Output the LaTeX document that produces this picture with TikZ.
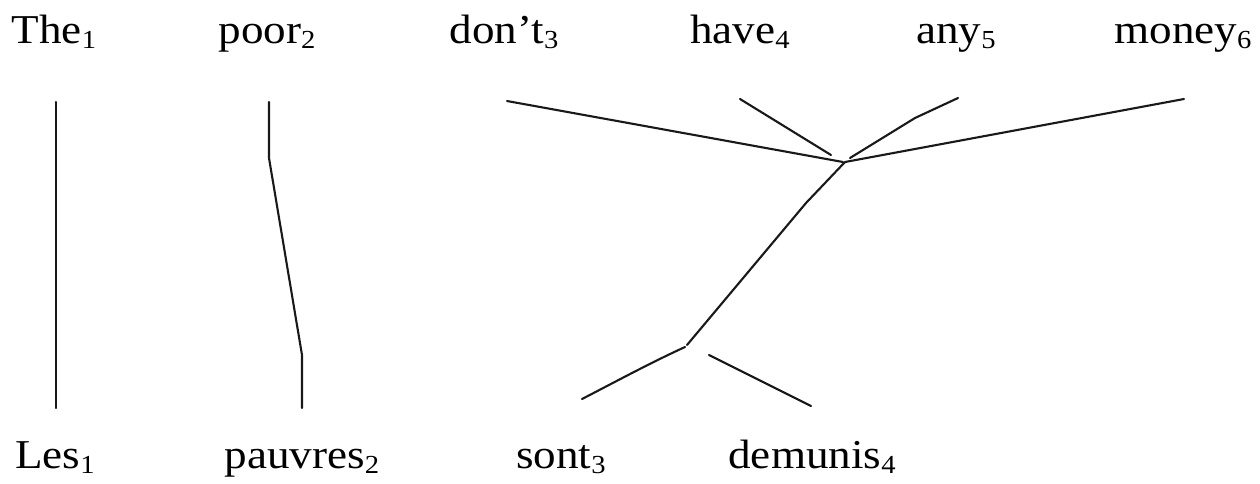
\documentclass[tikz,border=0pt]{standalone}
\usepackage{fontspec}
\setmainfont{Liberation Serif}[FakeStretch=1.1]
\newcommand\idx[1]{\raisebox{-0.28ex}{\fontsize{26}{26}\selectfont #1}}
\tikzset{
  word/.style={anchor=base, inner sep=0pt, font=\fontsize{41}{41}\selectfont},
  link/.style={line width=2.1pt, line join=round, line cap=round, black!90}
}
\begin{document}
\begin{tikzpicture}[x=1pt, y=-1pt]
\useasboundingbox (0,0) rectangle (1260,483);

% English sentence
\node[word] (the)   at (54,43)   {The\idx{1}};
\node[word] (poor)  at (267,43)  {poor\idx{2}};
\node[word] (dont)  at (504,43)  {don't\idx{3}};
\node[word] (have)  at (740,43)  {have\idx{4}};
\node[word] (any)   at (956,43)  {any\idx{5}};
\node[word] (money) at (1183,43) {money\idx{6}};

% French sentence
\node[word] (les)     at (55,468)  {Les\idx{1}};
\node[word] (pauvres) at (302,468) {pauvres\idx{2}};
\node[word] (sont)    at (561,468) {sont\idx{3}};
\node[word] (demunis) at (812,468) {demunis\idx{4}};

% link end points
\coordinate (theA) at (56,102);   \coordinate (lesA) at (56,408);
\coordinate (poorA) at (269,102); \coordinate (pauvA) at (302,408);
\coordinate (dontA) at (507,101);
\coordinate (haveA) at (740,99);  \coordinate (haveB) at (831,155);
\coordinate (anyA) at (958,98);
\coordinate (moneyA) at (1184,99);
\coordinate (hub) at (845,162);
\coordinate (split) at (687,345);
\coordinate (sontA) at (685,347); \coordinate (sontB) at (582,399);
\coordinate (demA) at (709,355);  \coordinate (demB) at (811,406);

% word alignment links
\draw[link] (theA) -- (lesA);
\draw[link] (poorA) -- (269,158) -- (302,355) -- (pauvA);
\draw[link] (dontA) -- (843,162);
\draw[link] (haveA) -- (haveB);
\draw[link] (anyA) -- (915,118) -- (850,158);
\draw[link] (moneyA) -- (hub);
\draw[link] (hub) -- (806,203) -- (split);
\draw[link] (sontA) .. controls (650,363) and (615,382) .. (sontB);
\draw[link] (demA) -- (demB);
\end{tikzpicture}
\end{document}
